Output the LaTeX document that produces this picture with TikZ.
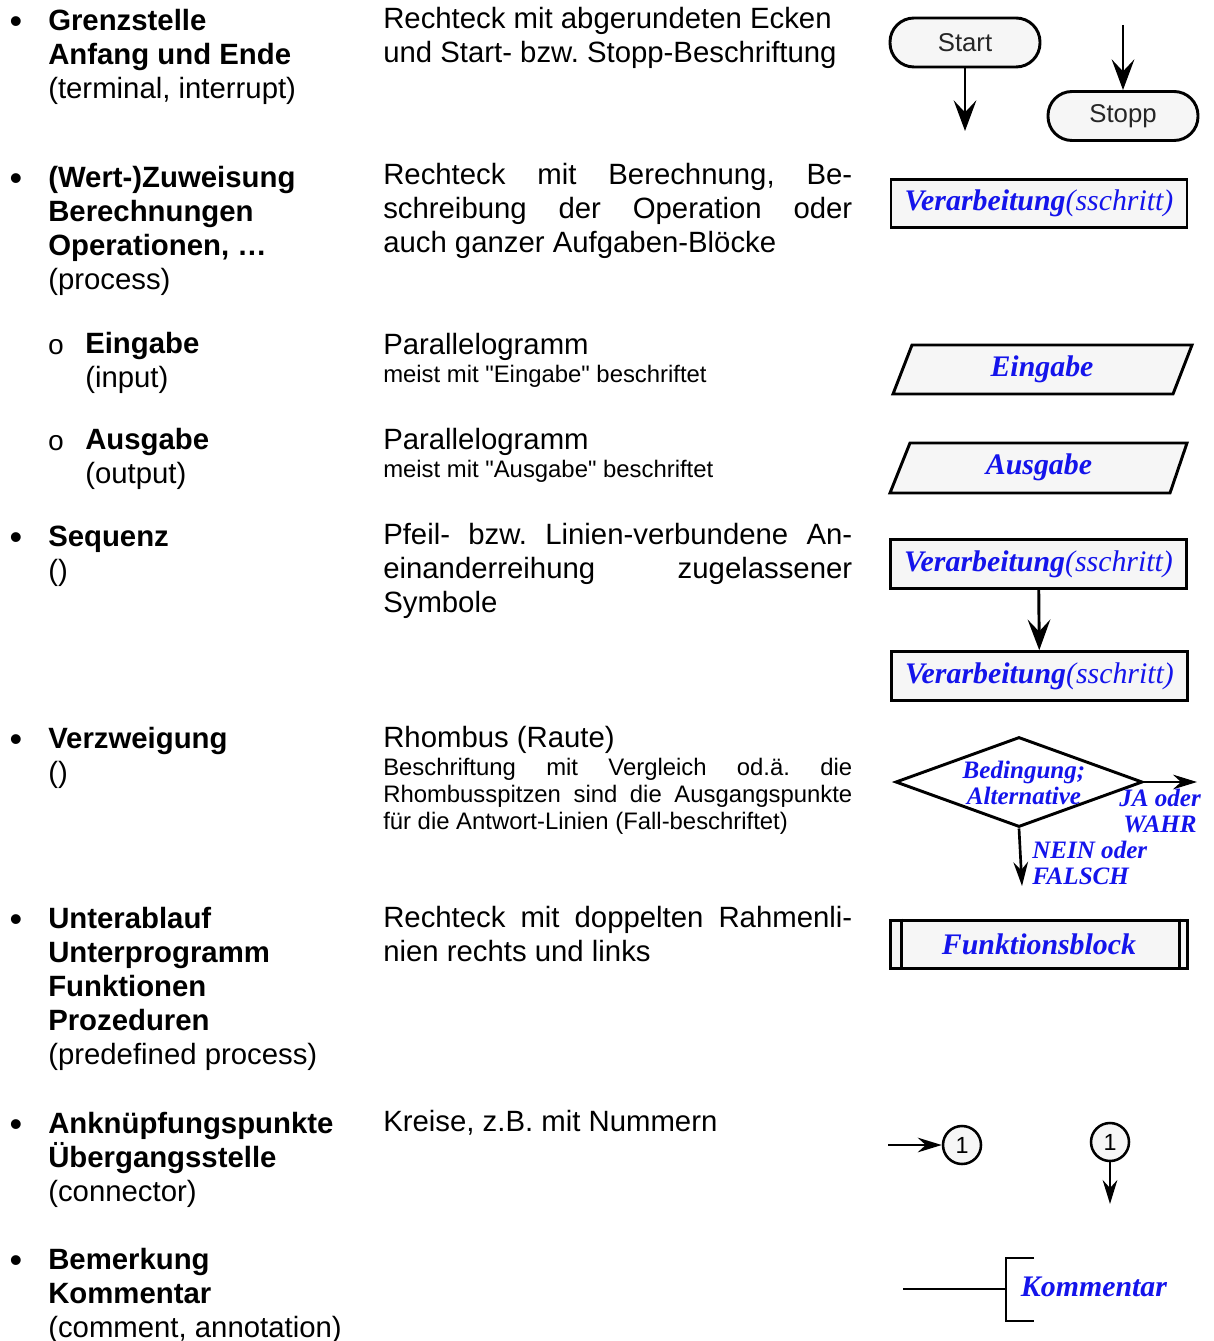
\documentclass[tikz,border=0pt]{standalone}
\usepackage{fontspec}
\setmainfont{Liberation Sans}
\newfontfamily\tnr{Liberation Serif}
\newfontfamily\mono{Liberation Mono}
\usetikzlibrary{arrows.meta,shapes.geometric}
\newcommand\bigf{\fontsize{22}{25.5}\selectfont}
\newcommand\smf{\fontsize{17.9}{20.6}\selectfont}
\newcommand\bt{\tnr\bfseries\itshape\fontsize{22.4}{26}\selectfont}
\newcommand\dt{\tnr\bfseries\itshape\fontsize{18.8}{19.5}\selectfont}
\newcommand\jl[1]{\hbox to 351.75pt{#1}}
\newcommand\ml[1]{\vtop{\halign{##\hfil\cr#1\crcr}}}
\definecolor{lblue}{RGB}{20,20,235}
\definecolor{shfill}{gray}{0.965}
\begin{document}
\frenchspacing
\begin{tikzpicture}[x=0.75pt,y=-0.75pt,
  lt/.style={anchor=base west, inner sep=0pt, font=\bigf},
  st/.style={anchor=base west, inner sep=0pt, font=\smf},
  bul/.style={anchor=base, inner sep=0pt, font=\fontsize{27}{27}\selectfont},
  sbul/.style={anchor=base, inner sep=0pt, font=\mono\fontsize{21}{21}\selectfont},
  shp/.style={draw, line width=2.2pt, fill=shfill},
  term/.style={shp, rounded corners=18pt, minimum width=112.5pt, minimum height=36.75pt, inner sep=0pt, font=\fontsize{19.3}{22}\selectfont, text=black!85},
  proc/.style={shp, minimum width=222pt, minimum height=36.5pt, inner sep=0pt, font=\bt, text=lblue},
  bl/.style={text=lblue, font=\bt, inner sep=0pt},
  dl/.style={text=lblue, font=\dt, inner sep=0pt},
  arr/.style={line width=2.2pt, -{Stealth[length=23pt,width=17pt,inset=9pt]}},
  sarr/.style={line width=2pt, -{Stealth[length=18pt,width=11pt,inset=6pt]}},
  conn/.style={circle, draw, line width=1.9pt, fill=shfill, minimum size=28.5pt, inner sep=0pt, font=\fontsize{17.5}{18}\selectfont},
  lin/.style={line width=2.2pt}
]
\useasboundingbox (0,0) rectangle (1213,1341);

% ---------- left column ----------
\node[bul] (b1) at (16,34) {•};
\node[lt] (l1) at (48,31) {\ml{\textbf{Grenzstelle}\cr\textbf{Anfang und Ende}\cr(terminal, interrupt)}};
\node[bul] (b2) at (16,191) {•};
\node[lt] (l2) at (48,188) {\ml{\textbf{(Wert-)Zuweisung}\cr\textbf{Berechnungen}\cr\textbf{Operationen, …}\cr(process)}};
\node[sbul] (b3) at (56,354) {o};
\node[lt] (l3) at (85,353) {\ml{\textbf{Eingabe}\cr(input)}};
\node[sbul] (b4) at (56,450) {o};
\node[lt] (l4) at (85,449) {\ml{\textbf{Ausgabe}\cr(output)}};
\node[bul] (b5) at (16,549) {•};
\node[lt] (l5) at (48,546) {\ml{\textbf{Sequenz}\cr()}};
\node[bul] (b6) at (16,751) {•};
\node[lt] (l6) at (48,748) {\ml{\textbf{Verzweigung}\cr()}};
\node[bul] (b7) at (16,931) {•};
\node[lt] (l7) at (48,928) {\ml{\textbf{Unterablauf}\cr\textbf{Unterprogramm}\cr\textbf{Funktionen}\cr\textbf{Prozeduren}\cr(predefined process)}};
\node[bul] (b8) at (16,1136) {•};
\node[lt] (l8) at (48,1133) {\ml{\textbf{Anknüpfungspunkte}\cr\textbf{Übergangsstelle}\cr(connector)}};
\node[bul] (b9) at (16,1272) {•};
\node[lt] (l9) at (48,1269) {\ml{\textbf{Bemerkung}\cr\textbf{Kommentar}\cr(comment, annotation)}};

% ---------- middle column ----------
\node[lt] (m1) at (383,29) {\ml{Rechteck mit abgerundeten Ecken\cr und Start- bzw. Stopp-Beschriftung}};
\node[lt] (m2) at (383,185) {\ml{\jl{Rechteck mit Berechnung, Be-}\cr\jl{schreibung der Operation oder}\cr auch ganzer Aufgaben-Blöcke}};
\node[lt] (m3) at (383,354) {Parallelogramm};
\node[st] (m3s) at (383,382) {meist mit \textquotedbl Eingabe\textquotedbl{} beschriftet};
\node[lt] (m4) at (383,449) {Parallelogramm};
\node[st] (m4s) at (383,477) {meist mit \textquotedbl Ausgabe\textquotedbl{} beschriftet};
\node[lt] (m5) at (383,544) {\ml{\jl{Pfeil- bzw. Linien-verbundene An-}\cr\jl{einanderreihung zugelassener}\cr Symbole}};
\node[lt] (m6) at (383,747) {Rhombus (Raute)};
\node[st] (m6s) at (383,775) {\ml{\jl{Beschriftung mit Vergleich od.ä. die}\cr\jl{Rhombusspitzen sind die Ausgangspunkte}\cr für die Antwort-Linien (Fall-beschriftet)}};
\node[lt] (m7) at (383,927) {\ml{\jl{Rechteck mit doppelten Rahmenli-}\cr nien rechts und links}};
\node[lt] (m8) at (383,1131) {Kreise, z.B. mit Nummern};

% ---------- right column ----------
% terminal
\node[term] (start) at (965,42.5) {Start};
\coordinate (startout) at (965,131);
\draw[arr] (start) -- (startout);
\node[term] (stopp) at (1123,116) {Stopp};
\coordinate (stoppin) at (1123,25);
\draw[arr] (stoppin) -- (stopp);

% process
\node[proc] (p1) at (1039,203.5) {Verarbeitung\textmd{(sschritt)}};

% input / output
\draw[shp] (912,345) -- (1192,345) -- (1173,394) -- (893,394) -- cycle;
\node[bl] (ein) at (1042,369) {Eingabe};
\draw[shp] (910,443) -- (1187,443) -- (1170,493) -- (890,493) -- cycle;
\node[bl] (aus) at (1039,467) {Ausgabe};

% sequence
\node[proc] (s1) at (1038.5,564) {Verarbeitung\textmd{(sschritt)}};
\node[proc] (s2) at (1039.5,676) {Verarbeitung\textmd{(sschritt)}};
\draw[arr] (s1) -- (s2);

% decision
\node[diamond, shp, fill=white, minimum width=185.25pt, minimum height=67.5pt, inner sep=0pt] (dia) at (1019,782) {};
\node[dl, align=center] (diat) at (1024,783) {Bedingung;\\Alternative};
\coordinate (jaout) at (1197,782);
\draw[sarr] (dia.east) -- (jaout);
\node[dl, align=center] (ja) at (1160,811) {JA oder\\WAHR};
\coordinate (neinout) at (1022,886);
\draw[sarr] (dia.south) -- (neinout);
\node[dl, align=left, anchor=west] (nein) at (1032,863) {NEIN oder\\FALSCH};

% predefined process
\node[proc, minimum width=222.75pt] (fb) at (1039,944.5) {Funktionsblock};
\draw[lin] ([xshift=9pt]fb.north west) -- ([xshift=9pt]fb.south west);
\draw[lin] ([xshift=-7pt]fb.north east) -- ([xshift=-7pt]fb.south east);

% connectors
\node[conn] (c1) at (962,1145) {1};
\coordinate (c1in) at (888,1145);
\draw[sarr] (c1in) -- (c1);
\node[conn] (c2) at (1110,1142) {1};
\coordinate (c2out) at (1110,1204);
\draw[sarr] (c2) -- (c2out);

% comment
\coordinate (k0) at (903,1289);
\coordinate (kb) at (1006,1289);
\draw[lin] (k0) -- (kb);
\draw[lin] (1034,1258) -- (1006,1258) -- (1006,1321) -- (1034,1321);
\node[bl] (kt) at (1094,1287) {Kommentar};
\end{tikzpicture}
\end{document}
